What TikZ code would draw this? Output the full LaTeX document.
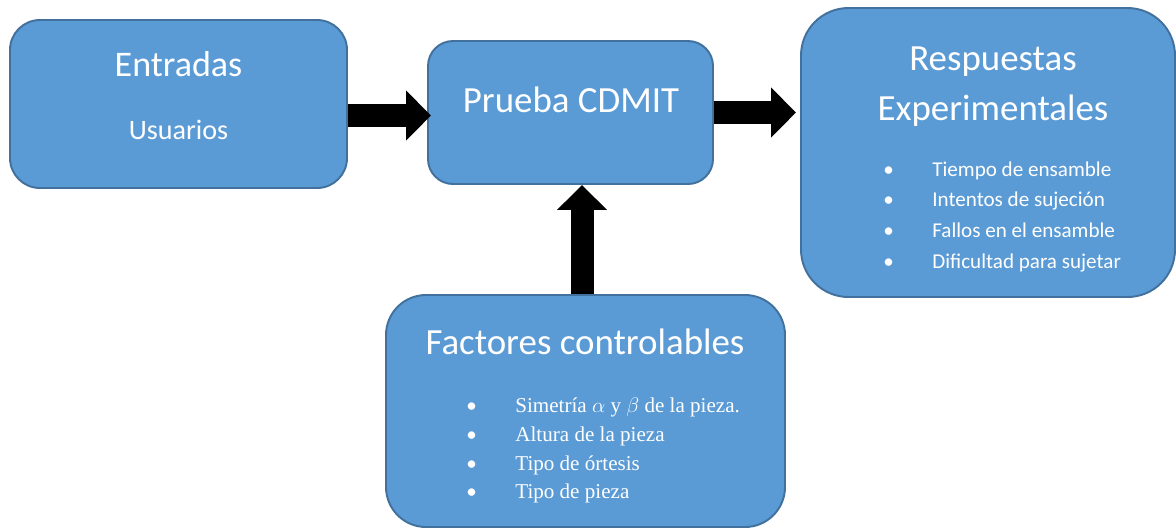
\documentclass[tikz,border=0pt]{standalone}
\usepackage{fontspec}
\setmainfont{Carlito}
\newfontfamily\timesfont{Liberation Serif}
\usetikzlibrary{arrows.meta,calc}
\definecolor{azulcaja}{RGB}{91,155,213}
\definecolor{bordecaja}{RGB}{65,113,156}

\begin{document}
\begin{tikzpicture}[
  caja/.style={rectangle, draw=bordecaja, fill=azulcaja, line width=1.1pt},
  titulo/.style={anchor=base, text=white, inner sep=0pt, font=\fontsize{21}{25}\selectfont},
  lista/.style={anchor=base west, text=white, inner sep=0pt},
  flecha/.style={line width=0.46cm, -{Triangle[length=0.5cm,width=0.97cm]}}
]
\useasboundingbox (0,0) rectangle (23.52,-10.58);

% Entradas
\node[caja, rounded corners=0.6cm, minimum width=6.74cm, minimum height=3.36cm] (ent) at (3.57,-2.08) {};
\node[titulo, font=\fontsize{20.5}{25}\selectfont] (tent) at (3.57,-1.52) {Entradas};
\node[titulo, font=\fontsize{16}{20}\selectfont] (tusu) at (3.57,-2.78) {Usuarios};

% Prueba
\node[caja, rounded corners=0.5cm, minimum width=5.70cm, minimum height=2.86cm] (prueba) at (11.41,-2.25) {};
\node[titulo] (tprueba) at (11.42,-2.24) {Prueba CDMIT};

% Respuestas
\node[caja, rounded corners=0.95cm, minimum width=7.48cm, minimum height=5.78cm] (resp) at (19.76,-3.05) {};
\node[titulo] (tresp1) at (19.86,-1.40) {Respuestas};
\node[titulo] (tresp2) at (19.86,-2.40) {Experimentales};
\node[lista, font=\fontsize{12}{17.6}\selectfont] (lresp) at (17.66,-3.52) {%
  \begin{tabular}[t]{@{}p{0.98cm}@{}l@{}}
  • & Tiempo de ensamble\\
  • & Intentos de sujeción\\
  • & Fallos en el ensamble\\
  • & Dificultad para sujetar
  \end{tabular}};

% Factores
\node[caja, rounded corners=0.8cm, minimum width=7.98cm, minimum height=4.64cm] (fact) at (11.71,-8.22) {};
\node[titulo] (tfact) at (11.70,-7.08) {Factores controlables};
\node[lista, font=\timesfont\fontsize{12}{16.5}\selectfont] (lfact) at (9.32,-8.24) {%
  \begin{tabular}[t]{@{}p{0.98cm}@{}l@{}}
  {\normalfont •} & Simetría $\alpha$ y $\beta$ de la pieza.\\
  {\normalfont •} & Altura de la pieza\\
  {\normalfont •} & Tipo de órtesis\\
  {\normalfont •} & Tipo de pieza
  \end{tabular}};

% Flechas
\draw[flecha] ([yshift=-0.06cm]ent.east |- prueba.west) -- ([shift={(0.08,-0.06)}]prueba.west);
\draw[flecha] (prueba.east) -- ([xshift=-0.08cm]resp.west |- prueba.east);
\draw[flecha] ([xshift=-0.07cm]fact.north) -- ([xshift=-0.07cm]fact.north |- prueba.south);
\end{tikzpicture}
\end{document}
